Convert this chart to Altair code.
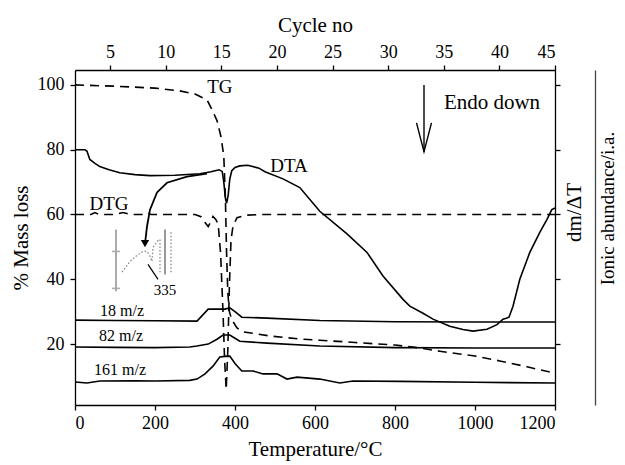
import altair as alt
import pandas as pd

FONT = "Liberation Serif"

# ---------------- data ----------------
tg_T = [0, 100, 200, 260, 300, 330, 342, 355, 365, 372, 376, 379, 382, 386, 392, 405, 420, 487, 560, 612, 700, 800, 845, 912, 1000, 1062, 1130, 1200]
tg_v = [100, 99.6, 99, 98.2, 97.2, 95.4, 92.5, 89, 84, 78, 65, 48, 36, 30, 27.5, 25, 23.8, 22.5, 21.6, 21.2, 20.5, 19.7, 19.1, 17.8, 16.3, 14.8, 13, 11]

dtg_T = [0, 40, 50, 60, 100, 120, 140, 170, 180, 190, 300, 315, 325, 333, 340, 345, 352, 358, 364, 370, 374, 378, 382, 386, 390, 395, 405, 430, 470, 1200]
dtg_v = [60, 60, 60.6, 60, 60, 60.6, 60, 60, 60.5, 60, 60, 59.3, 57.5, 56.3, 57.8, 59.4, 58.5, 57, 48, 30, 15, 6, 18, 38, 52, 56.5, 59, 59.8, 60, 60]

dta_T = [0, 25, 30, 37, 50, 62, 85, 112, 150, 187, 250, 312, 340, 360, 368, 372, 376, 379, 383, 387, 392, 400, 412, 432, 460, 475, 520, 562, 612, 680, 730, 770, 820, 837, 870, 895, 937, 970, 995, 1030, 1055, 1070, 1078, 1085, 1095, 1112, 1137, 1162, 1180, 1192, 1200]
dta_v = [80, 80, 79.5, 77, 75.8, 74.8, 73.8, 72.9, 72.3, 72, 72.1, 72.6, 73.2, 73.8, 73.3, 70, 65, 63.5, 66, 71, 73.5, 74.5, 75, 75.2, 74.3, 73.2, 71, 68.3, 61, 54, 48.3, 41, 33.8, 31.7, 29.5, 27.7, 25.5, 24.5, 24, 24.6, 26, 27.7, 28, 28.3, 31.7, 40, 48.3, 54.5, 58.5, 61.5, 62]

ms18_T = [0, 100, 200, 305, 333, 375, 387, 400, 417, 480, 612, 800, 1000, 1200]
ms18_v = [27.4, 27.3, 27.2, 27.1, 30.8, 30.8, 31.2, 30, 28.3, 28, 27.3, 26.9, 26.8, 26.8]

ms82_T = [0, 100, 200, 287, 305, 333, 355, 370, 387, 400, 412, 480, 612, 800, 1000, 1200]
ms82_v = [19.1, 19.0, 18.9, 19.1, 19.4, 20, 21.5, 22.8, 22.8, 21.8, 20.9, 20.3, 19.4, 18.9, 18.8, 18.8]

ms161_T = [0, 30, 62, 150, 200, 287, 305, 325, 345, 362, 375, 387, 400, 417, 445, 470, 505, 530, 555, 612, 662, 695, 812, 1000, 1200]
ms161_v = [8.3, 8.0, 8.6, 8.7, 8.6, 8.8, 9.2, 10.8, 13.2, 16, 16.2, 16.3, 14, 11.7, 11.7, 10.8, 10.8, 9.2, 9.8, 9.2, 8, 8.6, 8.5, 8.2, 8]

# annotation arrows / inset (data coordinates)
endo_shaft_T = [872.5, 872.5]
endo_shaft_v = [100, 79.4]
endo_head_T = [853.75, 872.5, 891.25]
endo_head_v = [88.3, 79.4, 88.3]

curve_arrow_T = [330, 280, 230, 205, 187.5, 180, 176]
curve_arrow_v = [72.6, 71.7, 69.8, 66.8, 61.5, 56.3, 52]
curve_head_T = [175]
curve_head_v = [51]

inset_dot_T = [117.5, 137.5, 155, 170, 180, 187.5, 192.5, 195, 205, 212.5, 212.5]
inset_dot_v = [42.2, 45.5, 47.4, 48.6, 48.6, 47.1, 45.5, 49.8, 51.7, 52.3, 42.2]
inset_dot2_T = [240, 240]
inset_dot2_v = [54.5, 42.2]
inset_bar1_T = [102.5, 102.5]
inset_bar1_v = [55.4, 36.3]
inset_bar2_T = [225, 225]
inset_bar2_v = [55.4, 41.5]
inset_cross_T = [[92.5, 112.5], [92.5, 112.5]]
inset_cross_v = [[48.6, 48.6], [37.2, 37.2]]
leader_T = [182.5, 207.5]
leader_v = [44.6, 40]

labels_text = ["TG", "DTA", "DTG", "18 m/z", "82 m/z", "161 m/z", "335", "Endo down"]
labels_T = [362, 535, 85, 117.5, 115, 112.5, 225, 1042.5]
labels_v = [99.4, 75.1, 63.1, 30.2, 22.5, 12.0, 36.6, 94.5]
labels_size = [19, 19, 19, 16, 16, 16, 15, 21]

cycle_ticks = [5, 10, 15, 20, 25, 30, 35, 40, 45]
temp_ticks = [0, 200, 400, 600, 800, 1000, 1200]
mass_ticks = [20, 40, 60, 80, 100]

XDOM = [0, 1200]
YDOM = [1.2, 104.6]
CDOM = [1.85, 45]


def df(T, v):
    return pd.DataFrame({"T": T, "v": v, "i": list(range(len(T)))})


axis_common = dict(
    labelFont=FONT, titleFont=FONT, labelFontSize=18, titleFontSize=21,
    titleFontWeight="normal", labelColor="black", titleColor="black",
    domainColor="black", tickColor="black", domainWidth=1.3, tickWidth=1.3,
    tickSize=5, grid=False,
)

X = alt.X("T:Q", scale=alt.Scale(domain=XDOM, nice=False, zero=False),
          axis=alt.Axis(values=temp_ticks, title="Temperature/°C", orient="bottom", format="d",
                        labelPadding=4, titlePadding=6, **axis_common))
Y = alt.Y("v:Q", scale=alt.Scale(domain=YDOM, nice=False, zero=False),
          axis=alt.Axis(values=mass_ticks, title="% Mass loss", orient="left", format="d",
                        labelPadding=6, titlePadding=6, **axis_common))


def line(T, v, color="black", width=1.6, dash=None):
    kw = dict(color=color, strokeWidth=width)
    if dash is not None:
        kw["strokeDash"] = dash
    return alt.Chart(df(T, v)).mark_line(**kw).encode(x=X, y=Y, order="i:Q")


layers = [
    line(tg_T, tg_v, dash=[9, 6]),
    line(dtg_T, dtg_v, dash=[9, 6]),
    line(dta_T, dta_v),
    line(ms18_T, ms18_v),
    line(ms82_T, ms82_v),
    line(ms161_T, ms161_v),
    line(endo_shaft_T, endo_shaft_v, width=1.4),
    line(endo_head_T, endo_head_v, width=1.4),
    line(curve_arrow_T, curve_arrow_v, width=1.8),
    alt.Chart(df(curve_head_T, curve_head_v)).mark_point(
        shape="triangle-down", filled=True, color="black", size=70, opacity=1
    ).encode(x=X, y=Y),
    line(inset_dot_T, inset_dot_v, color="#888888", width=1.3, dash=[1.5, 2]),
    line(inset_dot2_T, inset_dot2_v, color="#888888", width=1.3, dash=[1.5, 2]),
    line(inset_bar1_T, inset_bar1_v, color="#aaaaaa", width=2),
    line(inset_bar2_T, inset_bar2_v, color="#999999", width=2),
    line(inset_cross_T[0], inset_cross_v[0], color="#aaaaaa", width=1.5),
    line(inset_cross_T[1], inset_cross_v[1], color="#aaaaaa", width=1.5),
    line(leader_T, leader_v, width=1.2),
]

for txt, t, v, s in zip(labels_text, labels_T, labels_v, labels_size):
    layers.append(
        alt.Chart(pd.DataFrame({"T": [t], "v": [v], "txt": [txt]})).mark_text(
            font=FONT, fontSize=s, color="black", align="center", baseline="middle"
        ).encode(x=X, y=Y, text="txt:N")
    )

main = alt.layer(*layers)

# top (cycle) axis and right dm/ΔT axis
cyc = alt.Chart(pd.DataFrame({"c": cycle_ticks, "r": [50] * len(cycle_ticks)})).mark_point(
    opacity=0
).encode(
    x=alt.X("c:Q", scale=alt.Scale(domain=CDOM, nice=False, zero=False),
            axis=alt.Axis(values=cycle_ticks, title="Cycle no", orient="top", format="d",
                          labelPadding=4, titlePadding=8, **axis_common)),
    y=alt.Y("r:Q", scale=alt.Scale(domain=YDOM, nice=False, zero=False),
            axis=alt.Axis(values=mass_ticks, labels=False, title="dm/ΔT", orient="right",
                          titleAngle=270, titleBaseline="top", titlePadding=3, titleY=142,
                          **axis_common)),
)

ion_axis = {k: v for k, v in axis_common.items() if k not in ("domainColor", "titleFontSize")}

# outer "Ionic abundance" axis
ion = alt.Chart(pd.DataFrame({"c": [0], "r": [50]})).mark_point(opacity=0).encode(
    x=alt.X("c:Q", axis=None),
    y=alt.Y("r:Q", scale=alt.Scale(domain=YDOM, nice=False, zero=False),
            axis=alt.Axis(values=[], labels=False, ticks=False, title="Ionic abundance/i.a.",
                          orient="right", offset=40, titleAngle=270, titleBaseline="top",
                          titlePadding=3, titleY=138, titleFontSize=19,
                          domainColor="#444444", **ion_axis)),
)

chart = alt.layer(main, cyc, ion).resolve_scale(x="independent", y="independent").properties(
    width=480, height=335,
    autosize=alt.AutoSizeParams(type="none"),
    padding={"left": 67, "top": 62, "right": 62, "bottom": 58},
).configure_view(stroke=None).configure(background="white")

chart.save("out.html", embed_options={"renderer": "svg", "actions": False})
